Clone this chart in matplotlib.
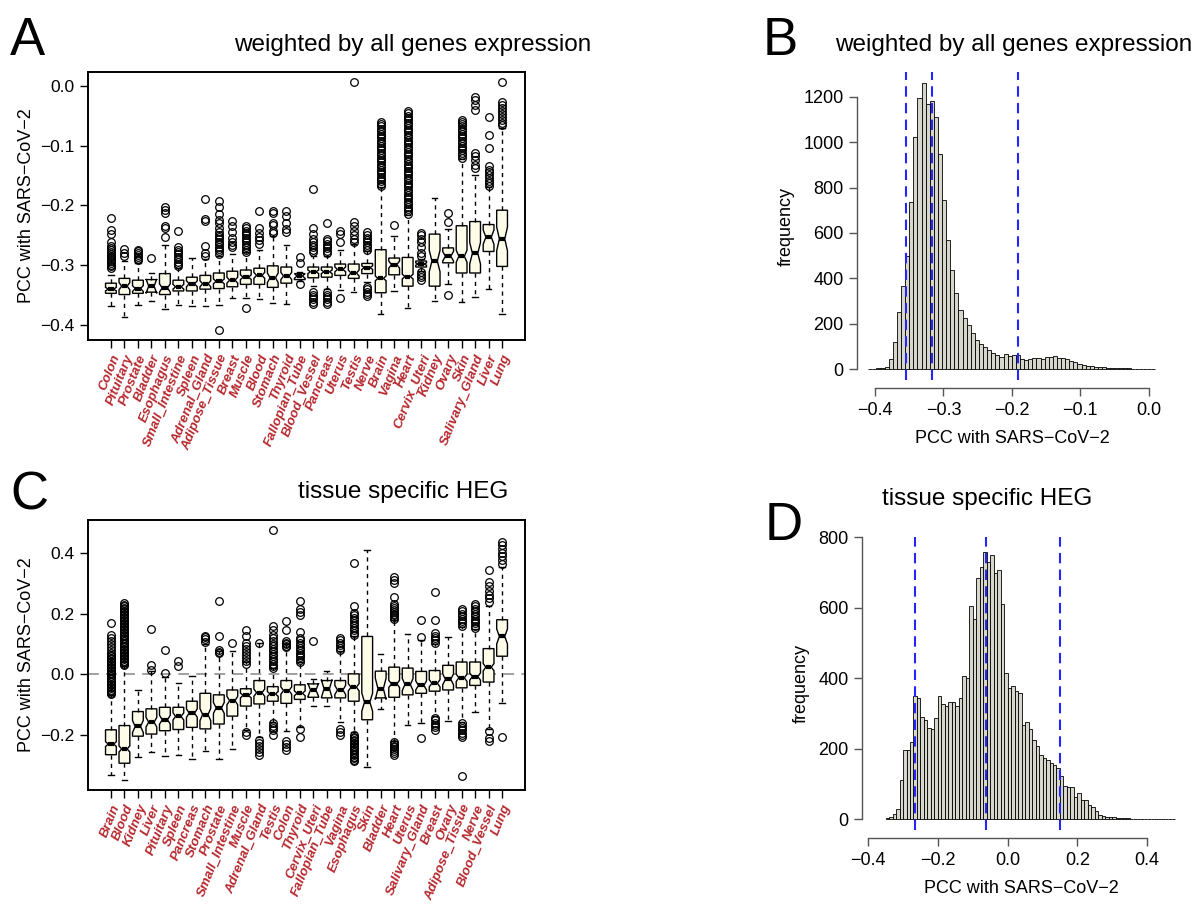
import numpy as np
import matplotlib.pyplot as plt

plt.rcParams['font.family'] = ['Liberation Sans', 'DejaVu Sans']

W, H = 1199, 906
MINUS = '\u2212'

# ---------------- panel A : weighted by all genes expression ----------------
tissues_a = ['Colon', 'Pituitary', 'Prostate', 'Bladder', 'Esophagus', 'Small_Intestine', 'Spleen',
             'Adrenal_Gland', 'Adipose_Tissue', 'Breast', 'Muscle', 'Blood', 'Stomach', 'Thyroid',
             'Fallopian_Tube', 'Blood_Vessel', 'Pancreas', 'Uterus', 'Testis', 'Nerve', 'Brain',
             'Vagina', 'Heart', 'Cervix_Uteri', 'Kidney', 'Ovary', 'Skin', 'Salivary_Gland', 'Liver', 'Lung']
med_a = [-0.340, -0.335, -0.339, -0.335, -0.338, -0.336, -0.331, -0.331, -0.327, -0.325, -0.320, -0.317,
         -0.321, -0.318, -0.318, -0.311, -0.311, -0.307, -0.313, -0.304, -0.322, -0.299, -0.319, -0.298,
         -0.293, -0.285, -0.285, -0.280, -0.253, -0.256]
q1_a = [-0.347, -0.349, -0.347, -0.345, -0.349, -0.343, -0.343, -0.340, -0.339, -0.336, -0.332, -0.332,
        -0.337, -0.330, -0.324, -0.321, -0.320, -0.317, -0.322, -0.314, -0.346, -0.316, -0.335, -0.303,
        -0.335, -0.296, -0.313, -0.313, -0.277, -0.302]
q3_a = [-0.330, -0.322, -0.325, -0.324, -0.314, -0.325, -0.320, -0.317, -0.313, -0.310, -0.308, -0.305,
        -0.301, -0.303, -0.314, -0.303, -0.303, -0.298, -0.298, -0.297, -0.274, -0.288, -0.287, -0.293,
        -0.248, -0.271, -0.234, -0.227, -0.232, -0.208]
lo_a = [-0.369, -0.386, -0.367, -0.360, -0.374, -0.366, -0.369, -0.369, -0.367, -0.355, -0.355, -0.357,
        -0.363, -0.365, -0.327, -0.334, -0.339, -0.342, -0.345, -0.328, -0.382, -0.343, -0.371, -0.309,
        -0.360, -0.332, -0.361, -0.353, -0.339, -0.382]
hi_a = [-0.316, -0.293, -0.296, -0.313, -0.266, -0.305, -0.288, -0.289, -0.284, -0.281, -0.278, -0.275,
        -0.251, -0.266, -0.311, -0.284, -0.284, -0.275, -0.264, -0.277, -0.170, -0.251, -0.216, -0.289,
        -0.187, -0.240, -0.123, -0.150, -0.170, -0.071]
notch_a = [0.003, 0.006, 0.005, 0.012, 0.007, 0.004, 0.005, 0.005, 0.004, 0.005, 0.004, 0.005, 0.008, 0.006,
           0.004, 0.003, 0.003, 0.004, 0.005, 0.003, 0.004, 0.006, 0.004, 0.002, 0.018, 0.008, 0.010, 0.018,
           0.012, 0.020]
fliers_a = [
    [-0.305, -0.302, -0.299, -0.296, -0.293, -0.290, -0.287, -0.284, -0.281, -0.278, -0.275, -0.272, -0.268,
     -0.262, -0.247, -0.241, -0.221],
    [-0.285, -0.280, -0.273],
    [-0.292, -0.289, -0.286, -0.283, -0.280, -0.277, -0.275],
    [-0.288],
    [-0.252, -0.238, -0.234, -0.213, -0.208, -0.203],
    [-0.302, -0.298, -0.294, -0.290, -0.286, -0.282, -0.278, -0.274, -0.270, -0.243],
    [],
    [-0.284, -0.279, -0.268, -0.226, -0.223, -0.190],
    [-0.408, -0.281, -0.277, -0.273, -0.269, -0.265, -0.261, -0.257, -0.253, -0.249, -0.245, -0.238, -0.230,
     -0.225, -0.214, -0.203, -0.192],
    [-0.270, -0.266, -0.262, -0.255, -0.245, -0.235, -0.226],
    [-0.371, -0.278, -0.274, -0.270, -0.266, -0.262, -0.258, -0.254, -0.250, -0.246, -0.242, -0.238, -0.234],
    [-0.264, -0.258, -0.252, -0.246, -0.238, -0.209],
    [-0.246, -0.242, -0.232, -0.230, -0.212, -0.209],
    [-0.244, -0.239, -0.229, -0.218, -0.209],
    [-0.332, -0.297, -0.287],
    [-0.365, -0.361, -0.357, -0.353, -0.349, -0.345, -0.278, -0.274, -0.270, -0.266, -0.262, -0.256, -0.248,
     -0.238, -0.172],
    [-0.365, -0.361, -0.357, -0.353, -0.349, -0.345, -0.280, -0.276, -0.272, -0.268, -0.264, -0.260, -0.256,
     -0.230],
    [-0.355, -0.262, -0.248, -0.242],
    [-0.262, -0.256, -0.250, -0.243, -0.235, -0.227, 0.006],
    [-0.352, -0.348, -0.344, -0.340, -0.336, -0.274, -0.270, -0.266, -0.262, -0.258, -0.254, -0.249, -0.245],
    [-0.168, -0.164, -0.160, -0.156, -0.152, -0.148, -0.144, -0.140, -0.136, -0.132, -0.128, -0.124, -0.120,
     -0.116, -0.112, -0.108, -0.104, -0.100, -0.096, -0.092, -0.088, -0.084, -0.080, -0.076, -0.072, -0.068,
     -0.064, -0.060],
    [-0.232],
    [-0.214, -0.210, -0.206, -0.202, -0.198, -0.194, -0.190, -0.186, -0.182, -0.178, -0.174, -0.170, -0.166,
     -0.162, -0.158, -0.154, -0.150, -0.146, -0.142, -0.138, -0.134, -0.130, -0.126, -0.122, -0.118, -0.114,
     -0.110, -0.106, -0.102, -0.098, -0.094, -0.090, -0.086, -0.082, -0.078, -0.074, -0.070, -0.066, -0.062,
     -0.058, -0.054, -0.050, -0.046, -0.043],
    [-0.325, -0.320, -0.316, -0.312, -0.285, -0.280, -0.270, -0.262, -0.256, -0.250, -0.246],
    [],
    [-0.350, -0.228, -0.213],
    [-0.120, -0.116, -0.112, -0.108, -0.104, -0.100, -0.096, -0.092, -0.088, -0.084, -0.080, -0.076, -0.072,
     -0.068, -0.064, -0.060, -0.057],
    [-0.137, -0.132, -0.124, -0.118, -0.112, -0.041, -0.032, -0.024, -0.019],
    [-0.167, -0.163, -0.159, -0.155, -0.150, -0.145, -0.140, -0.134, -0.104, -0.082, -0.052],
    [-0.066, -0.062, -0.058, -0.052, -0.047, -0.042, -0.037, -0.032, -0.027, 0.006],
]

# ---------------- panel B : histogram ----------------
b_start = -0.41
b_width = 0.006
b_counts = [2, 2, 3, 5, 10, 45, 120, 250, 365, 500, 735, 1025, 1195, 1260, 1170, 1180, 1110, 950, 745, 570,
            435, 335, 260, 225, 195, 160, 130, 110, 95, 82, 72, 60, 55, 65, 58, 62, 60, 42, 38, 44, 48, 50,
            46, 55, 52, 58, 50, 48, 45, 36, 30, 22, 18, 14, 12, 10, 8, 7, 6, 5, 4, 4, 3, 3, 2, 2, 1, 1, 1, 1]
b_vlines = [-0.355, -0.316, -0.191]

# ---------------- panel C : tissue specific HEG ----------------
tissues_c = ['Brain', 'Blood', 'Kidney', 'Liver', 'Pituitary', 'Spleen', 'Pancreas', 'Stomach', 'Prostate',
             'Small_Intestine', 'Muscle', 'Adrenal_Gland', 'Testis', 'Colon', 'Thyroid', 'Cervix_Uteri',
             'Fallopian_Tube', 'Vagina', 'Esophagus', 'Skin', 'Bladder', 'Heart', 'Uterus', 'Salivary_Gland',
             'Breast', 'Ovary', 'Adipose_Tissue', 'Nerve', 'Blood_Vessel', 'Lung']
med_c = [-0.229, -0.245, -0.171, -0.157, -0.149, -0.138, -0.127, -0.132, -0.110, -0.086, -0.069, -0.060,
         -0.064, -0.053, -0.062, -0.051, -0.047, -0.051, -0.042, -0.091, -0.047, -0.031, -0.033, -0.036,
         -0.029, -0.016, -0.011, -0.007, 0.024, 0.125]
q1_c = [-0.264, -0.292, -0.203, -0.196, -0.185, -0.181, -0.174, -0.179, -0.163, -0.137, -0.104, -0.097,
        -0.088, -0.095, -0.082, -0.075, -0.077, -0.077, -0.088, -0.149, -0.077, -0.075, -0.067, -0.062,
        -0.055, -0.051, -0.044, -0.036, -0.025, 0.060]
q3_c = [-0.182, -0.168, -0.122, -0.113, -0.108, -0.108, -0.088, -0.062, -0.067, -0.051, -0.047, -0.020,
        -0.040, -0.020, -0.034, -0.031, -0.020, -0.020, 0.002, 0.125, 0.011, 0.024, 0.021, 0.010, 0.013,
        0.030, 0.041, 0.041, 0.085, 0.180]
lo_c = [-0.330, -0.347, -0.270, -0.256, -0.269, -0.265, -0.278, -0.251, -0.278, -0.245, -0.182, -0.205,
        -0.157, -0.185, -0.174, -0.104, -0.104, -0.157, -0.190, -0.305, -0.113, -0.218, -0.165, -0.160,
        -0.138, -0.152, -0.155, -0.124, -0.181, -0.095]
hi_c = [-0.069, 0.028, -0.050, 0.010, -0.009, -0.027, -0.005, 0.100, 0.077, 0.077, 0.040, 0.105, 0.020,
        0.100, 0.040, -0.014, 0.013, 0.077, 0.125, 0.409, 0.068, 0.178, 0.132, 0.114, 0.100, 0.123, 0.156,
        0.148, 0.224, 0.354]
notch_c = [0.008, 0.010, 0.020, 0.016, 0.015, 0.012, 0.014, 0.020, 0.018, 0.014, 0.008, 0.012, 0.008, 0.012,
           0.008, 0.022, 0.030, 0.015, 0.012, 0.030, 0.035, 0.012, 0.020, 0.015, 0.012, 0.018, 0.012, 0.012,
           0.012, 0.025]
fliers_c = [
    [-0.065, -0.060, -0.055, -0.050, -0.045, -0.040, -0.035, -0.030, -0.025, -0.020, -0.015, -0.010, -0.005,
     0.000, 0.005, 0.010, 0.015, 0.020, 0.025, 0.030, 0.035, 0.040, 0.045, 0.050, 0.055, 0.060, 0.065, 0.070,
     0.080, 0.090, 0.100, 0.110, 0.120, 0.130, 0.168],
    [0.030, 0.035, 0.040, 0.045, 0.050, 0.055, 0.060, 0.065, 0.070, 0.075, 0.080, 0.085, 0.090, 0.095, 0.100,
     0.105, 0.110, 0.115, 0.120, 0.125, 0.130, 0.135, 0.140, 0.145, 0.150, 0.155, 0.160, 0.165, 0.170, 0.175,
     0.180, 0.185, 0.190, 0.195, 0.200, 0.205, 0.210, 0.215, 0.220, 0.225, 0.230, 0.235],
    [],
    [0.015, 0.030, 0.150],
    [0.005, 0.080],
    [0.028, 0.045],
    [],
    [0.108, 0.115, 0.122, 0.126],
    [0.070, 0.075, 0.080, 0.125, 0.240],
    [0.103],
    [-0.190, -0.200, 0.035, 0.045, 0.055, 0.065, 0.075, 0.085, 0.095, 0.105, 0.125, 0.145],
    [-0.215, -0.225, -0.235, -0.245, -0.255, -0.265, 0.105],
    [-0.160, -0.168, -0.176, -0.184, -0.200, 0.020, 0.028, 0.036, 0.044, 0.052, 0.060, 0.068, 0.076, 0.084,
     0.092, 0.100, 0.110, 0.120, 0.130, 0.145, 0.160, 0.475],
    [-0.220, -0.230, -0.240, -0.250, 0.090, 0.095, 0.100, 0.105, 0.110, 0.145, 0.175],
    [-0.180, -0.205, 0.040, 0.048, 0.056, 0.064, 0.072, 0.080, 0.088, 0.096, 0.104, 0.112, 0.120, 0.140,
     0.195, 0.205, 0.215, 0.240],
    [0.110],
    [],
    [-0.178, -0.190, -0.200, 0.080, 0.088, 0.096, 0.104, 0.112, 0.120],
    [-0.200, -0.205, -0.210, -0.215, -0.220, -0.225, -0.230, -0.235, -0.240, -0.245, -0.250, -0.255, -0.260,
     -0.265, -0.270, -0.275, -0.280, -0.285, 0.130, 0.138, 0.146, 0.154, 0.162, 0.170, 0.178, 0.186, 0.194,
     0.202, 0.225, 0.365],
    [],
    [],
    [-0.222, -0.228, -0.234, -0.240, -0.246, -0.252, -0.258, -0.264, 0.182, 0.188, 0.194, 0.200, 0.206,
     0.212, 0.218, 0.224, 0.232, 0.255, 0.300, 0.310, 0.320],
    [],
    [-0.210, 0.122, 0.180],
    [-0.142, -0.150, -0.158, -0.166, -0.174, -0.184, 0.105, 0.112, 0.120, 0.128, 0.136, 0.180, 0.270],
    [],
    [-0.160, -0.168, -0.176, -0.184, -0.192, -0.200, -0.205, -0.335, 0.160, 0.168, 0.176, 0.184, 0.192,
     0.200, 0.208, 0.215],
    [0.152, 0.160, 0.168, 0.176, 0.184, 0.192, 0.200, 0.208, 0.216, 0.224, 0.232],
    [-0.185, -0.210, -0.220, 0.238, 0.250, 0.262, 0.275, 0.290, 0.305, 0.343],
    [-0.205, 0.362, 0.375, 0.388, 0.400, 0.412, 0.425, 0.435],
]

# ---------------- panel D : histogram ----------------
d_start = -0.35
d_width = 0.01
d_counts = [3, 7, 15, 30, 111, 197, 197, 220, 350, 345, 290, 280, 259, 255, 287, 350, 327, 320, 331, 331,
            322, 345, 405, 400, 605, 568, 683, 716, 757, 730, 750, 697, 706, 609, 415, 373, 378, 364, 357,
            267, 276, 257, 225, 209, 183, 174, 169, 160, 155, 146, 123, 95, 91, 91, 63, 75, 54, 56, 40, 35,
            24, 12, 9, 7, 6, 6, 5, 5, 4, 3, 2, 1, 2, 1, 1, 0, 1, 1, 0, 1, 0, 1, 1]
d_vlines = [-0.266, -0.063, 0.151]

box_fill = '#fdfce9'
bar_fill = '#d6d6cc'
label_red = '#b5282e'
ylab = 'PCC with SARS' + MINUS + 'CoV' + MINUS + '2'


def add_ax(l, t, r, b):
    return fig.add_axes([l / W, 1 - b / H, (r - l) / W, (b - t) / H])


def fmt(v, nd):
    s = f'{abs(v):.{nd}f}'
    return (MINUS + s) if v < -1e-9 else s


def box_panel(ax, names, lo, q1, med, q3, hi, notch, fliers, ylim, yticks):
    stats = []
    for i in range(len(names)):
        stats.append(dict(whislo=lo[i], q1=q1[i], med=med[i], q3=q3[i], whishi=hi[i],
                          cilo=med[i] - notch[i], cihi=med[i] + notch[i], fliers=fliers[i]))
    pos = np.arange(1, len(names) + 1)
    ax.bxp(stats, positions=pos, widths=0.8, shownotches=True, patch_artist=True, capwidths=0.4,
           boxprops=dict(facecolor=box_fill, edgecolor='black', linewidth=1),
           whiskerprops=dict(color='black', linewidth=1, linestyle=(0, (3, 3))),
           capprops=dict(color='black', linewidth=1),
           medianprops=dict(color='black', linewidth=3, solid_capstyle='butt'),
           flierprops=dict(marker='o', markerfacecolor='none', markeredgecolor='black',
                           markersize=5.5, markeredgewidth=0.9))
    ax.set_xlim(-0.7, len(names) + 1.7)
    ax.set_ylim(*ylim)
    ax.set_yticks(yticks)
    ax.set_yticklabels([fmt(v, 1) for v in yticks], fontsize=12.5)
    ax.set_xticks(pos)
    ax.set_xticklabels(names, rotation=68, ha='right', rotation_mode='anchor', fontsize=9.6,
                       fontweight='bold', fontstyle='italic', color=label_red)
    ax.tick_params(axis='both', direction='out', length=6, width=1, colors='black')
    ax.tick_params(axis='x', pad=3, labelcolor=label_red)
    for s in ax.spines.values():
        s.set_linewidth(1.4)
    ax.set_ylabel(ylab, fontsize=13, labelpad=4)


def hist_panel(ax, start, width, counts, vlines, xlim, ylim, xticks, yticks, xnd):
    edges = start + width * np.arange(len(counts))
    ax.bar(edges, counts, width=width, align='edge', color=bar_fill, edgecolor='black', linewidth=0.6,
           zorder=2)
    for v in vlines:
        ax.axvline(v, color='#2525ff', linestyle=(0, (5, 3)), linewidth=1.5, zorder=3)
    ax.set_xlim(*xlim)
    ax.set_ylim(*ylim)
    ax.spines['top'].set_visible(False)
    ax.spines['right'].set_visible(False)
    ax.spines['left'].set_bounds(yticks[0], yticks[-1])
    ax.spines['bottom'].set_bounds(xticks[0], xticks[-1])
    ax.spines['bottom'].set_position(('outward', 6))
    for s in ('left', 'bottom'):
        ax.spines[s].set_color('#555555')
        ax.spines[s].set_linewidth(1)
    ax.set_xticks(xticks)
    ax.set_xticklabels([fmt(v, xnd) for v in xticks], fontsize=13)
    ax.set_yticks(yticks)
    ax.set_yticklabels([str(v) for v in yticks], fontsize=13)
    ax.tick_params(axis='both', direction='out', length=6, width=1, color='#555555')
    ax.set_xlabel(ylab, fontsize=13, labelpad=8)
    ax.set_ylabel('frequency', fontsize=13, labelpad=6)


fig = plt.figure(figsize=(W / 100, H / 100), dpi=100)

ax_a = add_ax(88, 72, 525, 340)
box_panel(ax_a, tissues_a, lo_a, q1_a, med_a, q3_a, hi_a, notch_a, fliers_a,
          (-0.425, 0.023), [-0.4, -0.3, -0.2, -0.1, 0.0])

ax_b = add_ax(857, 72, 1167, 380)
hist_panel(ax_b, b_start, b_width, b_counts, b_vlines, (-0.4263, 0.0269), (-48.5, 1310),
           [-0.4, -0.3, -0.2, -0.1, 0.0], [0, 200, 400, 600, 800, 1000, 1200], 1)

ax_c = add_ax(88, 520, 525, 790)
ax_c.axhline(0, color='#999999', linestyle=(0, (6, 4)), linewidth=1.3, zorder=0)
box_panel(ax_c, tissues_c, lo_c, q1_c, med_c, q3_c, hi_c, notch_c, fliers_c,
          (-0.38, 0.508), [-0.2, 0.0, 0.2, 0.4])

ax_d = add_ax(862, 537, 1180, 830)
hist_panel(ax_d, d_start, d_width, d_counts, d_vlines, (-0.4176, 0.4941), (-30.4, 780),
           [-0.4, -0.2, 0.0, 0.2, 0.4], [0, 200, 400, 600, 800], 1)

# titles and panel letters
fig.text(413 / W, 1 - 51 / H, 'weighted by all genes expression', ha='center', va='baseline', fontsize=17.5)
fig.text(1014 / W, 1 - 51 / H, 'weighted by all genes expression', ha='center', va='baseline', fontsize=17.5)
fig.text(403 / W, 1 - 498 / H, 'tissue specific HEG', ha='center', va='baseline', fontsize=17.5)
fig.text(987 / W, 1 - 505 / H, 'tissue specific HEG', ha='center', va='baseline', fontsize=17.5)
for letter, x, y in [('A', 10, 55), ('B', 763, 55), ('C', 10, 510), ('D', 765, 540)]:
    fig.text(x / W, 1 - y / H, letter, ha='left', va='baseline', fontsize=38,
             family=['Liberation Sans Narrow', 'Liberation Sans', 'DejaVu Sans'])

fig.savefig('out.png', dpi=100)
